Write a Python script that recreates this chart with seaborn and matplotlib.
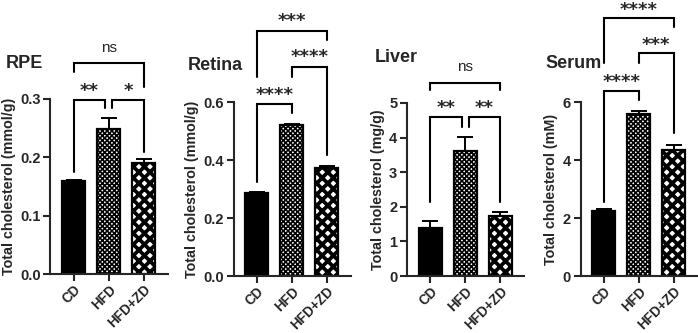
import matplotlib
matplotlib.use("Agg")
import matplotlib.pyplot as plt
import pandas as pd
import seaborn as sns

groups = ["CD", "HFD", "HFD+ZD"]

rpe_mean = [0.160, 0.249, 0.190]
rpe_sem = [0.002, 0.018, 0.007]
retina_mean = [0.287, 0.521, 0.371]
retina_sem = [0.003, 0.004, 0.009]
liver_mean = [1.40, 3.60, 1.72]
liver_sem = [0.20, 0.42, 0.14]
serum_mean = [2.25, 5.57, 4.36]
serum_sem = [0.05, 0.11, 0.16]

# brackets: (x1, x2, top, leg1 end, leg2 end, label, label y)
rpe_brackets = [(0, 2, 0.362, 0.347, 0.321, "ns", 0.388),
                (0, 0.9, 0.298, 0.175, 0.284, "**", 0.314),
                (1.1, 2, 0.298, 0.284, 0.210, "*", 0.314)]
retina_brackets = [(0, 2, 0.846, 0.687, 0.814, "***", 0.878),
                   (1, 2, 0.722, 0.687, 0.417, "****", 0.754),
                   (0, 1, 0.592, 0.325, 0.561, "****", 0.624)]
liver_brackets = [(0, 2, 5.57, 5.38, 5.38, "ns", 6.05),
                  (0, 0.9, 4.60, 2.15, 4.32, "**", 4.86),
                  (1.1, 2, 4.60, 4.32, 2.15, "**", 4.86)]
serum_brackets = [(0, 2, 8.89, 7.33, 8.60, "****", 9.17),
                  (1, 2, 7.68, 7.33, 4.92, "***", 7.98),
                  (0, 1, 6.39, 2.56, 6.07, "****", 6.68)]

panels = [
    ("RPE", "Total cholesterol (mmol/g)", rpe_mean, rpe_sem, rpe_brackets,
     [0.0, 0.1, 0.2, 0.3], "{:.1f}", 0.3),
    ("Retina", "Total cholesterol (mmol/g)", retina_mean, retina_sem, retina_brackets,
     [0.0, 0.2, 0.4, 0.6], "{:.1f}", 0.6),
    ("Liver", "Total cholesterol (mg/g)", liver_mean, liver_sem, liver_brackets,
     [0, 1, 2, 3, 4, 5], "{:.0f}", 5),
    ("Serum", "Total cholesterol (mM)", serum_mean, serum_sem, serum_brackets,
     [0, 2, 4, 6], "{:.0f}", 6),
]

sns.set_style("ticks")
plt.rcParams["font.family"] = ["Liberation Sans", "DejaVu Sans"]
plt.rcParams["font.weight"] = "bold"
plt.rcParams["hatch.linewidth"] = 1.6

W, H = 698, 333
fig = plt.figure(figsize=(W / 100, H / 100), dpi=100)

# pixel boxes: left, bottom(y of zero), top(y of max)
boxes = [(50.5, 274, 99), (233.5, 276, 102), (407, 276, 103), (580.5, 276, 102)]
title_pos = [(6, 63), (188, 65), (375, 57), (545, 63)]
hatches = [None, "xxxxxxx", "xxx"]
hatch_lw = [1.0, 1.2, 2.7]
fills = ["black", "white", "white"]

for (title, ylab, mean, sem, brackets, ticks, fmt, ymax), (lx, by, ty), (tx, tyy) in zip(
        panels, boxes, title_pos):
    ax = fig.add_axes([lx / W, (H - by) / H, 117 / W, (by - ty) / H])
    df = pd.DataFrame({"group": groups, "value": mean})
    sns.barplot(data=df, x="group", y="value", order=groups, width=0.66,
                errorbar=None, ax=ax, color="white")
    for p, h, hl, fc in zip(ax.patches, hatches, hatch_lw, fills):
        p.set_facecolor(fc)
        p.set_edgecolor("black")
        p.set_linewidth(1.6)
        if h:
            p.set_hatch(h)
            if hasattr(p, "set_hatch_linewidth"):
                p.set_hatch_linewidth(hl)
    ax.errorbar(range(3), mean, yerr=[[0, 0, 0], sem], fmt="none",
                ecolor="black", elinewidth=1.4, capsize=5.5, capthick=1.4, zorder=5)
    for x1, x2, top, e1, e2, lab, ly in brackets:
        ax.plot([x1, x1, x2, x2], [e1, top, top, e2], color="black", lw=1.5,
                clip_on=False, solid_joinstyle="miter")
        if lab == "ns":
            ax.text((x1 + x2) / 2, ly, lab, ha="center", va="center",
                    fontsize=11, fontweight="normal")
        else:
            ax.text((x1 + x2) / 2, ly, lab, ha="center", va="center",
                    fontsize=13, fontweight="bold", fontfamily="DejaVu Sans")
    ax.set_xlim(-0.66, 2.68)
    ax.set_ylim(0, ymax)
    ax.set_yticks(ticks)
    ax.set_yticklabels([fmt.format(t) for t in ticks], fontsize=10.5, fontweight="bold")
    ax.set_xticks(range(3))
    ax.set_xticklabels(groups, rotation=45, ha="right", rotation_mode="anchor",
                       fontsize=9.8, fontweight="bold")
    ax.set_xlabel("")
    ax.set_ylabel(ylab, fontsize=10.3, fontweight="bold", labelpad=3)
    sns.despine(ax=ax)
    for s in ["left", "bottom"]:
        ax.spines[s].set_linewidth(1.5)
    ax.tick_params(width=1.5, length=5, pad=2)
    ax.tick_params(axis="x", pad=1)
    fig.text(tx / W, 1 - tyy / H, title, ha="left", va="center",
             fontsize=13, fontweight="bold")

fig.savefig("out.png", dpi=100)
